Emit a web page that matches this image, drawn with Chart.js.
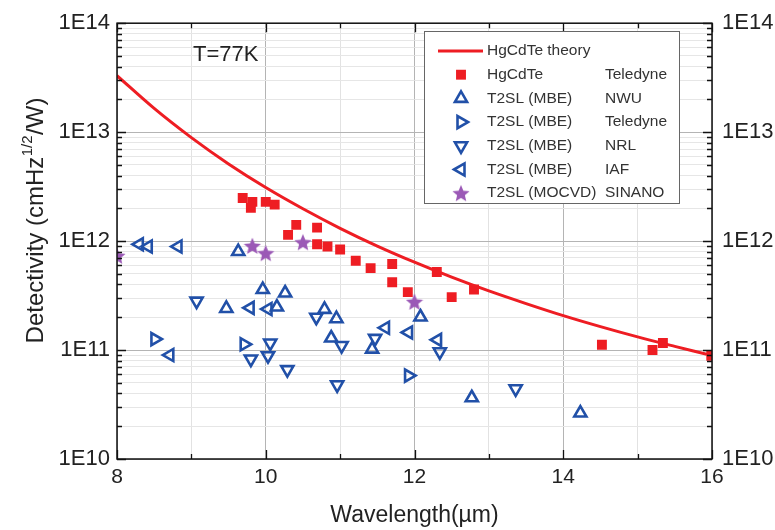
<!DOCTYPE html>
<html><head><meta charset="utf-8">
<script src="https://cdn.jsdelivr.net/npm/chart.js@4.4.1/dist/chart.umd.min.js"></script>
<style>html,body{margin:0;padding:0;background:#fff}</style>
</head><body>
<canvas id="c" width="775" height="530"></canvas>
<script>
// ---------- data ----------
const xTickValues = [8, 9, 10, 11, 12, 13, 14, 15, 16];
const xTickLabels = ['8', '', '10', '', '12', '', '14', '', '16'];
const yDecades = [1e10, 1e11, 1e12, 1e13, 1e14];
const yTickLabels = ['1E10', '1E11', '1E12', '1E13', '1E14'];

const theoryWavelength = [8, 8.5, 9, 9.5, 10, 10.5, 11, 11.5, 12, 12.5, 13, 13.5, 14, 14.5, 15, 15.5, 16];
const theoryDetectivity = [3.3e13, 1.65e13, 8.9e12, 5.1e12, 3.1e12, 1.98e12, 1.31e12, 9.0e11, 6.4e11, 4.67e11, 3.49e11, 2.67e11, 2.07e11, 1.64e11, 1.32e11, 1.08e11, 8.9e10];

const hgcdteWavelength = [9.69, 9.82, 9.80, 10.00, 10.12, 10.30, 10.41, 10.69, 10.69, 10.83, 11.00, 11.21, 11.41, 11.70, 11.70, 11.91, 12.30, 12.50, 12.80, 14.52, 15.20, 15.34, 15.99];
const hgcdteDetectivity = [2.49e12, 2.29e12, 2.02e12, 2.29e12, 2.16e12, 1.14e12, 1.41e12, 1.33e12, 9.35e11, 8.91e11, 8.37e11, 6.6e11, 5.65e11, 6.17e11, 4.19e11, 3.4e11, 5.2e11, 3.06e11, 3.59e11, 1.12e11, 1.0e11, 1.16e11, 8.87e10];

const nwuWavelength = [9.63, 9.47, 9.96, 10.15, 10.26, 10.79, 10.95, 10.88, 11.43, 12.08, 12.77, 14.23];
const nwuDetectivity = [8.02e11, 2.41e11, 3.59e11, 2.48e11, 3.34e11, 2.36e11, 1.94e11, 1.29e11, 1.02e11, 2.01e11, 3.65e10, 2.64e10];

const teledyneSLWavelength = [8.51, 9.71, 11.92];
const teledyneSLDetectivity = [1.26e11, 1.13e11, 5.83e10];

const nrlWavelength = [9.07, 9.80, 10.06, 10.03, 10.29, 10.68, 11.02, 10.96, 11.47, 12.34, 13.36];
const nrlDetectivity = [2.81e11, 8.27e10, 1.16e11, 8.87e10, 6.61e10, 2.0e11, 1.1e11, 4.8e10, 1.28e11, 9.64e10, 4.41e10];

const iafWavelength = [8.30, 8.42, 8.82, 9.79, 10.03, 8.71, 11.61, 11.92, 12.31];
const iafDetectivity = [9.35e11, 8.91e11, 8.91e11, 2.44e11, 2.38e11, 9.0e10, 1.6e11, 1.45e11, 1.24e11];

const sinanoWavelength = [8.0, 9.82, 10.0, 10.5, 12.0];
const sinanoDetectivity = [7.33e11, 9.04e11, 7.74e11, 9.75e11, 2.77e11];

const seriesNames = ['HgCdTe theory', 'HgCdTe', 'T2SL (MBE)', 'T2SL (MBE)', 'T2SL (MBE)', 'T2SL (MBE)', 'T2SL (MOCVD)'];
const seriesGroups = ['', 'Teledyne', 'NWU', 'Teledyne', 'NRL', 'IAF', 'SINANO'];

// ---------- styles ----------
const FONT = "'Liberation Sans', Arial, sans-serif";
const RED = '#ee1d23';
const BLUE = '#2150a8';
const PURPLE = '#9b59b6';

function pts(xs, ys) { return xs.map((x, i) => ({ x: x, y: ys[i] })); }

function makeStar(size, color) {
  const c = document.createElement('canvas');
  c.width = size; c.height = size;
  const g = c.getContext('2d');
  const cx = size / 2, cy = size / 2 + 0.8, ro = size / 2, ri = ro * 0.45;
  g.beginPath();
  for (let k = 0; k < 10; k++) {
    const r = k % 2 === 0 ? ro : ri;
    const a = -Math.PI / 2 + k * Math.PI / 5;
    const px = cx + r * Math.cos(a), py = cy + r * Math.sin(a);
    if (k === 0) g.moveTo(px, py); else g.lineTo(px, py);
  }
  g.closePath();
  g.fillStyle = color; g.fill();
  return c;
}
const starImg = makeStar(18, PURPLE);

function triDS(label, xs, ys, rot) {
  return {
    type: 'scatter', label: label, data: pts(xs, ys),
    pointStyle: 'triangle', pointRotation: rot, pointRadius: 7, pointHoverRadius: 7,
    pointBorderWidth: 2.6, pointBorderColor: BLUE, pointBackgroundColor: 'rgba(0,0,0,0)',
    borderColor: BLUE, backgroundColor: 'rgba(0,0,0,0)', showLine: false
  };
}

const datasets = [
  { type: 'line', label: seriesNames[0], data: pts(theoryWavelength, theoryDetectivity),
    borderColor: RED, borderWidth: 3, pointRadius: 0, tension: 0.35, fill: false },
  { type: 'scatter', label: seriesNames[1], data: pts(hgcdteWavelength, hgcdteDetectivity),
    pointStyle: 'rect', pointRadius: 7, pointHoverRadius: 7, pointBorderWidth: 0,
    pointBackgroundColor: RED, pointBorderColor: RED, backgroundColor: RED, showLine: false },
  triDS(seriesNames[2], nwuWavelength, nwuDetectivity, 0),
  triDS(seriesNames[3], teledyneSLWavelength, teledyneSLDetectivity, 90),
  triDS(seriesNames[4], nrlWavelength, nrlDetectivity, 180),
  triDS(seriesNames[5], iafWavelength, iafDetectivity, 270),
  { type: 'scatter', label: seriesNames[6], data: pts(sinanoWavelength, sinanoDetectivity),
    pointStyle: starImg, pointRadius: 9, showLine: false, backgroundColor: PURPLE, borderColor: PURPLE }
];

function isDecade(v) { const l = Math.log10(v); return Math.abs(l - Math.round(l)) < 1e-9; }
function logTicks() {
  const t = [];
  for (let d = 10; d < 14; d++) for (let m = 1; m <= 9; m++) t.push({ value: m * Math.pow(10, d) });
  t.push({ value: 1e14 });
  return t;
}
function yLabel(v) { const i = yDecades.findIndex(d => Math.abs(d - v) / d < 1e-6); return i >= 0 ? yTickLabels[i] : ''; }

// ---------- custom drawing ----------
function drawMarker(ctx, ds, x, y) {
  ctx.save();
  if (ds.pointStyle instanceof HTMLCanvasElement) {
    ctx.drawImage(ds.pointStyle, x - ds.pointStyle.width / 2, y - ds.pointStyle.height / 2);
  } else if (ds.pointStyle === 'rect') {
    const s = Math.SQRT1_2 * ds.pointRadius;
    ctx.fillStyle = ds.pointBackgroundColor;
    ctx.fillRect(x - s, y - s, 2 * s, 2 * s);
  } else if (ds.pointStyle === 'triangle') {
    let rad = (ds.pointRotation || 0) * Math.PI / 180;
    const r = ds.pointRadius;
    ctx.beginPath();
    ctx.moveTo(x + Math.sin(rad) * r, y - Math.cos(rad) * r);
    rad += 2 * Math.PI / 3;
    ctx.lineTo(x + Math.sin(rad) * r, y - Math.cos(rad) * r);
    rad += 2 * Math.PI / 3;
    ctx.lineTo(x + Math.sin(rad) * r, y - Math.cos(rad) * r);
    ctx.closePath();
    ctx.lineWidth = ds.pointBorderWidth; ctx.strokeStyle = ds.pointBorderColor;
    ctx.stroke();
  }
  ctx.restore();
}

const decor = {
  id: 'decor',
  afterDatasetsDraw(chart) {
    const ctx = chart.ctx;
    const { left, right, top, bottom } = chart.chartArea;
    const xs = chart.scales.x, ys = chart.scales.y;
    ctx.save();
    // frame
    ctx.strokeStyle = '#111'; ctx.lineWidth = 1.5;
    ctx.strokeRect(left, top, right - left, bottom - top);
    // inward ticks
    ctx.lineWidth = 1.3;
    ctx.beginPath();
    ys.ticks.forEach(t => {
      const py = Math.round(ys.getPixelForValue(t.value)) + 0.5;
      const len = isDecade(t.value) ? 9 : 5;
      ctx.moveTo(left, py); ctx.lineTo(left + len, py);
      ctx.moveTo(right, py); ctx.lineTo(right - len, py);
    });
    xs.ticks.forEach(t => {
      const px = Math.round(xs.getPixelForValue(t.value)) + 0.5;
      const len = (t.value % 2 === 0) ? 9 : 5;
      ctx.moveTo(px, bottom); ctx.lineTo(px, bottom - len);
      ctx.moveTo(px, top); ctx.lineTo(px, top + len);
    });
    ctx.stroke();

    // T=77K
    ctx.fillStyle = '#222';
    ctx.font = '22px ' + FONT;
    ctx.textAlign = 'left'; ctx.textBaseline = 'middle';
    ctx.fillText('T=77K', 193, 55);

    // legend
    const bx = 424, by = 31, bw = 255, bh = 172;
    ctx.fillStyle = '#fff';
    ctx.fillRect(bx, by, bw, bh);
    ctx.strokeStyle = '#666'; ctx.lineWidth = 1;
    ctx.strokeRect(bx + 0.5, by + 0.5, bw, bh);
    ctx.font = '15.5px ' + FONT;
    ctx.textBaseline = 'middle';
    chart.data.datasets.forEach((ds, i) => {
      const cy = 51 + i * 23.7;
      if (ds.type === 'line') {
        ctx.strokeStyle = ds.borderColor; ctx.lineWidth = ds.borderWidth;
        ctx.beginPath(); ctx.moveTo(438, cy); ctx.lineTo(483, cy); ctx.stroke();
      } else {
        drawMarker(ctx, ds, 461, cy);
      }
      ctx.fillStyle = '#333';
      ctx.fillText(seriesNames[i], 487, cy);
      if (seriesGroups[i]) ctx.fillText(seriesGroups[i], 605, cy);
    });

    // y-axis title with superscript
    ctx.save();
    ctx.translate(43, 221);
    ctx.rotate(-Math.PI / 2);
    ctx.fillStyle = '#222';
    ctx.textBaseline = 'alphabetic'; ctx.textAlign = 'left';
    const mainFont = '24px ' + FONT, supFont = '15px ' + FONT;
    const p1 = 'Detectivity (cmHz', p2 = '1/2', p3 = '/W)';
    ctx.font = mainFont; const w1 = ctx.measureText(p1).width, w3 = ctx.measureText(p3).width;
    ctx.font = supFont; const w2 = ctx.measureText(p2).width;
    let sx = -(w1 + w2 + w3) / 2;
    ctx.font = mainFont; ctx.fillText(p1, sx, 0); sx += w1;
    ctx.font = supFont; ctx.fillText(p2, sx + 0.5, -11); sx += w2 + 1;
    ctx.font = mainFont; ctx.fillText(p3, sx, 0);
    ctx.restore();

    ctx.restore();
  }
};

new Chart(document.getElementById('c'), {
  data: { datasets: datasets },
  options: {
    responsive: false, animation: false, devicePixelRatio: 1,
    layout: { padding: { top: 20, left: 0, right: 0, bottom: 0 } },
    plugins: { legend: { display: false }, tooltip: { enabled: false }, title: { display: false } },
    scales: {
      x: {
        type: 'linear', position: 'bottom', min: 8, max: 16,
        afterBuildTicks: s => { s.ticks = xTickValues.map(v => ({ value: v })); },
        afterFit: s => { s.height = 71; },
        ticks: { autoSkip: false, maxRotation: 0, padding: 6, color: '#222', font: { family: FONT, size: 21 },
          callback: (v) => { const i = xTickValues.indexOf(v); return i >= 0 ? xTickLabels[i] : ''; } },
        grid: { drawTicks: false, color: c => (c.tick && c.tick.value % 2 === 0) ? '#b4b4b4' : '#e2e2e2', lineWidth: 1 },
        border: { display: false },
        title: { display: true, text: 'Wavelength(µm)', color: '#222', font: { family: FONT, size: 23 }, padding: { top: 0, bottom: 1 } }
      },
      y: {
        type: 'logarithmic', position: 'left', min: 1e10, max: 1e14,
        afterBuildTicks: s => { s.ticks = logTicks(); },
        afterFit: s => { s.width = 117; },
        ticks: { autoSkip: false, padding: 7, color: '#222', font: { family: FONT, size: 22 }, callback: v => yLabel(v) },
        grid: { drawTicks: false, color: c => (c.tick && isDecade(c.tick.value)) ? '#b4b4b4' : '#e6e6e6', lineWidth: 1 },
        border: { display: false }
      },
      y2: {
        type: 'logarithmic', position: 'right', min: 1e10, max: 1e14,
        afterBuildTicks: s => { s.ticks = logTicks(); },
        afterFit: s => { s.width = 63; },
        ticks: { autoSkip: false, padding: 10, color: '#222', font: { family: FONT, size: 22 }, callback: v => yLabel(v) },
        grid: { display: false, drawTicks: false },
        border: { display: false }
      }
    }
  },
  plugins: [decor]
});
</script>
</body></html>
